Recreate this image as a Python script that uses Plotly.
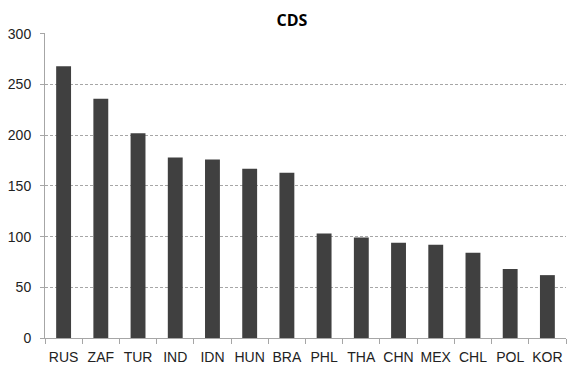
import plotly.graph_objects as go

categories = ["RUS", "ZAF", "TUR", "IND", "IDN", "HUN", "BRA", "PHL", "THA", "CHN", "MEX", "CHL", "POL", "KOR"]
cds_values = [268, 236, 202, 178, 176, 167, 163, 103, 99, 94, 92, 84, 68, 62]
y_ticks = [0, 50, 100, 150, 200, 250, 300]

fig = go.Figure(go.Bar(x=categories, y=cds_values, marker=dict(color="#404040", line=dict(width=0))))

fig.update_layout(
    width=567, height=368,
    margin=dict(l=45, r=1, t=33, b=30),
    paper_bgcolor="white", plot_bgcolor="white",
    bargap=0.6,
    showlegend=False,
    font=dict(family="Liberation Sans Narrow, Liberation Sans, sans-serif", size=14, color="#222222"),
    title=dict(text="<b>CDS</b>", x=0.515, xanchor="center", y=0.945, yanchor="middle",
               font=dict(family="Open Sans, sans-serif", size=16, color="black")),
)
fig.update_yaxes(range=[0, 300.8], tickvals=y_ticks, showgrid=True, gridcolor="#a6a6a6", griddash="3px,2px",
                 gridwidth=1, showline=True, linecolor="#a6a6a6", linewidth=1, automargin=False,
                 ticks="outside", ticklen=4, tickcolor="#a6a6a6", zeroline=False, ticklabelstandoff=6)
fig.update_xaxes(showline=True, linecolor="#a6a6a6", linewidth=1, ticks="outside", ticklen=5,
                 tickcolor="#a6a6a6", tickson="boundaries", showgrid=False, tickangle=0, automargin=False,
                 ticklabelstandoff=6)
# remove the default page margin so the 567x368 figure fills the window exactly
fig.write_html("out.html", config={"displayModeBar": False},
               post_script="document.body.style.margin='0';document.body.style.overflow='hidden';")
